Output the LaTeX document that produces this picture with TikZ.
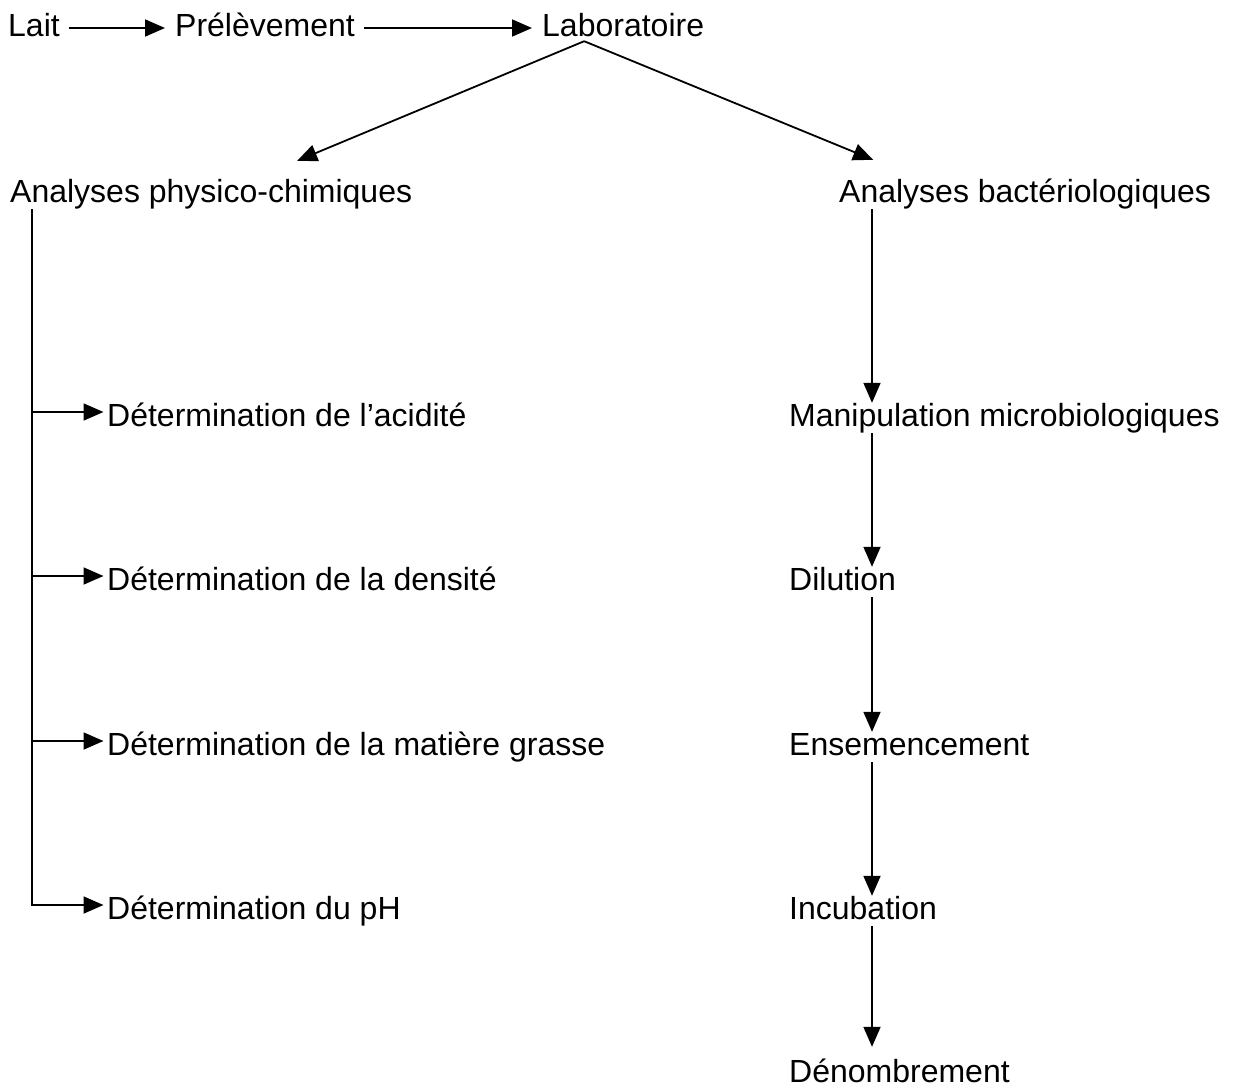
\documentclass[tikz,border=0pt]{standalone}
\usepackage{fontspec}
\setmainfont{Liberation Sans}
\usepackage{tikz}
\usetikzlibrary{arrows.meta}

\begin{document}
\begin{tikzpicture}[
    x=1pt, y=-1pt,
    font=\fontsize{32pt}{38pt}\selectfont,
    txt/.style={anchor=base west, inner sep=0pt, text height=23pt, text depth=7pt},
    arrow/.style={-{Triangle[length=20pt, width=17pt]}, line width=1.8pt},
    flow/.style={arrow, shorten <=9pt, shorten >=10pt}
]
    \useasboundingbox (0,0) rectangle (1236,1090);

    \node[txt] (lait) at (8,36) {Lait};
    \node[txt] (prel) at (175,36) {Prélèvement};
    \node[txt] (labo) at (542,36) {Laboratoire};

    \node[txt] (physico) at (10,202) {Analyses physico-chimiques};
    \node[txt] (bact) at (839,202) {Analyses bactériologiques};

    \node[txt] (acid) at (107,426) {Détermination de l’acidité};
    \node[txt] (dens) at (107,590) {Détermination de la densité};
    \node[txt] (mg) at (107,755) {Détermination de la matière grasse};
    \node[txt] (ph) at (107,919) {Détermination du pH};

    \node[txt] (manip) at (789,426) {Manipulation microbiologiques};
    \node[txt] (dil) at (789,590) {Dilution};
    \node[txt] (ens) at (789,755) {Ensemencement};
    \node[txt] (inc) at (789,919) {Incubation};
    \node[txt] (den) at (789,1082) {Dénombrement};

    \coordinate (pcol) at (32,0);
    \coordinate (bcol) at (872,0);

    \draw[flow] (lait.east) -- (prel.west);
    \draw[flow] (prel.east) -- (labo.west);
    \draw[arrow] ([xshift=-39pt, yshift=2pt]labo.south) -- ([xshift=86pt, yshift=18pt]physico.north);
    \draw[arrow] ([xshift=-39pt, yshift=2pt]labo.south) -- ([xshift=-152pt, yshift=19pt]bact.north);

    \draw[arrow, shorten >=3.5pt] (physico.south -| pcol) |- ([yshift=6pt]ph.west);
    \draw[arrow, shorten >=3.5pt] ([yshift=6pt]pcol |- acid.west) -- ([yshift=6pt]acid.west);
    \draw[arrow, shorten >=3.5pt] ([yshift=6pt]pcol |- dens.west) -- ([yshift=6pt]dens.west);
    \draw[arrow, shorten >=3.5pt] ([yshift=6pt]pcol |- mg.west) -- ([yshift=6pt]mg.west);

    \draw[arrow] (bact.south -| bcol) -- (manip.north -| bcol);
    \draw[arrow] (manip.south -| bcol) -- (dil.north -| bcol);
    \draw[arrow] (dil.south -| bcol) -- (ens.north -| bcol);
    \draw[arrow] (ens.south -| bcol) -- (inc.north -| bcol);
    \draw[arrow, shorten >=12pt] (inc.south -| bcol) -- (den.north -| bcol);
\end{tikzpicture}
\end{document}
